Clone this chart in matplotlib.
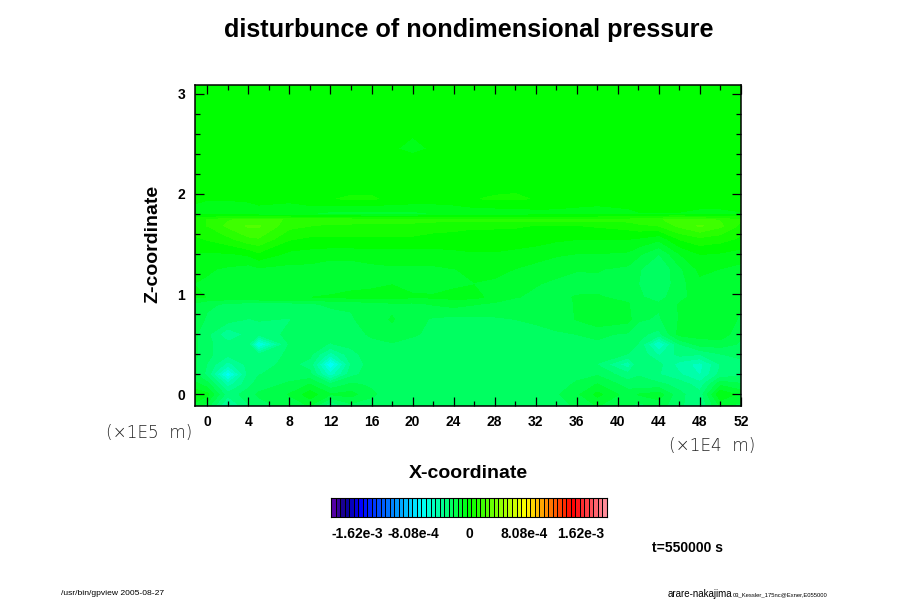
import numpy as np
import matplotlib.pyplot as plt
from matplotlib.colors import LinearSegmentedColormap, BoundaryNorm

plt.rcParams["font.family"] = "Liberation Sans"

# data, pressure in units of 1e-4
x = [-1.2, 0, 2, 4, 5, 8, 10, 12, 14, 16, 18, 20, 22, 24, 26, 28, 30, 32, 34, 36, 38, 41, 42, 44, 46, 48, 50, 52]
z = [-0.11, 0.0, 0.1, 0.2, 0.3, 0.4, 0.5, 0.6, 0.75, 0.9, 0.97, 1.1, 1.25, 1.4, 1.55, 1.68, 1.74, 1.8, 1.95, 2.1, 2.45, 3.09]
dp = [
    [-1.2, -2.0, -4.5, -3.0, -2.6, -2.0, -1.6, -3.6, -2.5, -2.6, -2.6, -2.6, -2.6, -2.6, -2.6, -2.6, -2.6, -2.6, -2.6, -2.2, -1.6, -2.2, -2.6, -2.0, -2.8, -3.6, -1.5, -1.8],
    [-0.5, -0.8, -3.4, -2.6, -2.2, -1.6, -0.6, -1.6, -1.4, -2.2, -2.6, -2.6, -2.6, -2.6, -2.6, -2.6, -2.6, -2.5, -2.4, -1.8, -0.8, -2.0, -1.6, -1.3, -2.8, -3.4, -0.4, -1.2],
    [-1.4, -2.0, -4.6, -3.2, -2.6, -2.2, -1.6, -2.8, -2.2, -2.4, -2.6, -2.6, -2.6, -2.6, -2.6, -2.6, -2.6, -2.6, -2.6, -2.2, -1.6, -2.6, -2.8, -2.8, -3.2, -4.0, -1.8, -2.2],
    [-2.2, -3.2, -6.8, -3.4, -3.0, -2.6, -2.8, -5.4, -3.2, -2.6, -2.6, -2.6, -2.6, -2.6, -2.6, -2.6, -2.6, -2.6, -2.6, -2.5, -2.4, -3.4, -3.0, -3.6, -4.2, -5.0, -3.4, -3.2],
    [-2.2, -3.0, -4.6, -3.4, -3.2, -2.8, -3.2, -7.0, -3.6, -2.6, -2.6, -2.6, -2.6, -2.6, -2.6, -2.6, -2.6, -2.6, -2.6, -2.6, -3.0, -4.8, -3.0, -3.4, -4.6, -5.2, -3.6, -3.4],
    [-2.2, -2.8, -3.4, -3.2, -3.6, -2.8, -2.8, -4.6, -3.2, -2.6, -2.6, -2.6, -2.6, -2.6, -2.6, -2.6, -2.6, -2.6, -2.6, -2.6, -2.6, -3.0, -3.0, -4.4, -3.4, -3.6, -3.0, -2.6],
    [-2.2, -2.8, -3.4, -3.6, -6.6, -2.9, -2.8, -3.0, -2.8, -2.5, -2.4, -2.6, -2.6, -2.6, -2.6, -2.6, -2.6, -2.6, -2.6, -2.5, -2.4, -2.5, -3.0, -5.8, -3.0, -2.0, -2.0, -2.4],
    [-2.2, -2.8, -4.2, -3.4, -3.4, -2.8, -2.8, -2.8, -2.6, -2.2, -1.8, -2.2, -2.5, -2.6, -2.6, -2.6, -2.6, -2.5, -2.4, -2.3, -2.2, -2.4, -2.8, -3.2, -1.4, -1.4, -1.2, -2.2],
    [-2.0, -2.4, -2.6, -3.0, -2.9, -3.0, -2.6, -2.6, -2.4, -1.9, -1.6, -2.0, -2.4, -2.5, -2.5, -2.4, -2.3, -2.2, -2.0, -1.6, -1.1, -1.4, -2.2, -2.4, -1.6, -1.4, -1.0, -1.8],
    [-1.8, -2.2, -2.4, -2.6, -2.6, -2.6, -2.4, -2.2, -2.2, -1.9, -1.8, -1.8, -1.6, -1.4, -1.6, -1.8, -2.0, -2.1, -1.9, -1.6, -1.3, -1.6, -2.0, -2.2, -1.6, -1.6, -1.4, -1.6],
    [-0.9, -1.0, -1.2, -1.2, -1.0, -1.0, -1.0, -0.9, -0.8, -0.8, -0.8, -0.9, -0.9, -0.8, -0.8, -1.2, -1.6, -1.8, -1.8, -1.6, -1.6, -1.8, -2.2, -2.6, -1.8, -1.4, -1.2, -1.4],
    [-1.0, -1.1, -1.2, -1.3, -1.2, -1.2, -1.2, -1.4, -1.2, -1.1, -1.0, -1.2, -1.3, -1.1, -1.0, -1.1, -1.4, -1.6, -1.8, -1.9, -1.8, -1.9, -2.3, -2.9, -1.9, -1.2, -1.2, -1.2],
    [-0.8, -0.9, -1.1, -1.3, -1.1, -1.2, -1.2, -1.4, -1.4, -1.2, -1.1, -1.1, -1.1, -1.0, -0.9, -0.8, -1.0, -1.2, -1.4, -1.6, -1.6, -1.8, -2.2, -3.0, -1.8, -0.8, -1.0, -1.2],
    [-0.4, -0.4, -0.4, -0.2, 0.2, -0.5, -0.6, -0.7, -0.7, -0.6, -0.6, -0.6, -0.6, -0.5, -0.4, -0.4, -0.5, -0.7, -0.9, -1.0, -1.0, -1.1, -1.5, -2.3, -1.0, -0.3, -0.4, -0.6],
    [0.2, 0.4, 0.8, 1.5, 1.6, 0.4, 0.2, 0.2, 0.2, 0.2, 0.2, 0.2, 0.1, 0.1, 0.1, 0.1, 0.0, 0.0, -0.2, -0.3, -0.3, -0.3, -0.4, -0.8, 0.4, 0.8, 0.6, 0.2],
    [0.8, 1.0, 1.8, 2.4, 2.4, 1.2, 1.0, 0.8, 0.8, 0.8, 0.8, 0.8, 0.6, 0.5, 0.4, 0.4, 0.4, 0.3, 0.3, 0.3, 0.4, 0.6, 0.8, 1.0, 1.8, 2.4, 1.8, 0.8],
    [0.8, 1.0, 1.6, 1.8, 1.8, 1.6, 1.4, 1.4, 1.4, 1.2, 1.2, 1.2, 1.2, 1.2, 1.2, 1.2, 1.2, 1.2, 1.2, 1.2, 1.2, 1.2, 1.4, 1.6, 1.8, 1.8, 1.6, 1.0],
    [-0.6, -0.6, -0.6, -0.8, -0.8, -1.0, -1.0, -1.2, -1.2, -1.2, -1.2, -1.2, -1.0, -0.8, -0.8, -0.8, -0.8, -0.6, -0.6, -0.6, -0.6, -0.4, -0.4, -0.4, -0.4, -0.6, -0.6, -0.4],
    [-0.2, -0.3, -0.3, -0.2, 0.0, -0.1, 0.2, 0.3, 0.4, 0.4, 0.2, 0.1, 0.0, 0.0, 0.3, 0.4, 0.4, 0.3, 0.2, 0.0, -0.1, -0.2, 0.2, 0.3, 0.2, 0.2, 0.2, 0.1],
    [-0.1, -0.1, 0.0, 0.0, 0.1, 0.2, 0.2, 0.2, 0.1, 0.1, 0.1, 0.1, 0.1, 0.0, -0.1, 0.1, 0.2, 0.1, 0.0, 0.0, 0.0, 0.0, 0.0, 0.0, 0.1, 0.0, 0.0, 0.0],
    [0.0, 0.0, 0.0, 0.0, 0.0, 0.0, 0.0, 0.0, 0.0, -0.1, -0.3, -0.4, -0.3, -0.1, 0.0, 0.0, 0.0, 0.0, 0.0, 0.0, 0.0, 0.0, 0.0, 0.0, 0.0, 0.0, 0.0, 0.0],
    [0.0, 0.0, 0.0, 0.0, 0.0, 0.0, 0.0, 0.0, 0.0, 0.0, 0.0, 0.0, 0.0, 0.0, 0.0, 0.0, 0.0, 0.0, 0.0, 0.0, 0.0, 0.0, 0.0, 0.0, 0.0, 0.0, 0.0, 0.0],
]

x_ticks = [0, 4, 8, 12, 16, 20, 24, 28, 32, 36, 40, 44, 48, 52]
z_ticks = [0, 1, 2, 3]
cb_ticks_all = [-16.2, -8.08, 0, 8.08, 16.2]
cb_labels = ["-1.62e-3", "-8.08e-4", "0", "8.08e-4", "1.62e-3"]

nlev = 61  # odd, so 0 sits in the middle of a cell
vmax = 20.1
levels = np.linspace(-vmax, vmax, nlev + 1)

# gpview rainbow
rainbow = LinearSegmentedColormap.from_list("rainbow_gp", [
    (0.0, (0.33, 0.0, 0.65)),
    (0.04, (0.05, 0.0, 0.55)),
    (0.10, (0.0, 0.0, 1.0)),
    (0.325, (0.0, 1.0, 1.0)),
    (0.5, (0.0, 1.0, 0.0)),
    (0.705, (1.0, 1.0, 0.0)),
    (0.88, (1.0, 0.0, 0.0)),
    (1.0, (1.0, 0.55, 0.6)),
], N=nlev)
norm = BoundaryNorm(levels, nlev)

fig = plt.figure(figsize=(9, 6), dpi=100)

ax = fig.add_axes([195 / 900, (600 - 405.5) / 600, 546 / 900, 321 / 600])
cs = ax.contourf(x, z, np.array(dp), levels=levels, cmap=rainbow, norm=norm, antialiased=False)
ax.set_xlim(-1.2, 52)
ax.set_ylim(-0.11, 3.09)
ax.set_xticks(x_ticks)
ax.set_xticks(np.arange(0, 53, 2), minor=True)
ax.set_yticks(z_ticks)
ax.set_yticks(np.arange(0, 3.1, 0.2), minor=True)
ax.tick_params(which="major", direction="in", top=True, right=True, length=6.5, width=0.9, pad=7)
ax.tick_params(which="minor", direction="in", top=True, right=True, length=3.6, width=0.9)
ax.set_xticklabels([str(t) for t in x_ticks], fontweight="bold", fontsize=10)
ax.set_yticklabels([str(t) for t in z_ticks], fontweight="bold", fontsize=10)
for s in ax.spines.values():
    s.set_linewidth(1.1)

fig.text(468.5 / 900, 1 - 30 / 600, "disturbunce of nondimensional pressure", ha="center", va="center", fontsize=18.2, fontweight="bold")
fig.text(468.5 / 900, 1 - 474 / 600, "X-coordinate", ha="center", va="center", fontsize=14, fontweight="bold")
fig.text(153 / 900, 1 - 244 / 600, "Z-coordinate", ha="center", va="center", rotation=90, fontsize=14, fontweight="bold")
fig.text(149 / 900, 1 - 433 / 600, "(\u00d71E5  m)", ha="center", va="center", fontsize=12.2, family="DejaVu Sans", fontweight="ultralight", color="#222222")
fig.text(712 / 900, 1 - 446 / 600, "(\u00d71E4  m)", ha="center", va="center", fontsize=12.2, family="DejaVu Sans", fontweight="ultralight", color="#222222")

# colour bar
cax = fig.add_axes([331 / 900, (600 - 517) / 600, 276 / 900, 19 / 600])
cax.pcolormesh(levels, [0, 1], (0.5 * (levels[:-1] + levels[1:]))[None, :], cmap=rainbow, norm=norm, edgecolors="k", linewidth=0.45)
cax.set_xlim(-vmax, vmax)
cax.set_yticks([])
cax.set_xticks(cb_ticks_all)
cax.set_xticklabels(cb_labels, fontweight="bold", fontsize=10)
cax.tick_params(length=0, pad=7)

fig.text(687 / 900, 1 - 548.5 / 600, "t=550000 s", ha="center", va="center", fontsize=10, fontweight="bold")
fig.text(61 / 900, 1 - 593.5 / 600, "/usr/bin/gpview 2005-08-27", ha="left", va="center", fontsize=6.1)
fig.text(668 / 900, 1 - 594 / 600, "arare-nakajima", ha="left", va="center", fontsize=7)
fig.text(733 / 900, 1 - 595 / 600, "03_Kessler_175nc@Exner,E055000", ha="left", va="center", fontsize=4.25)

fig.savefig("out.png", dpi=100)
